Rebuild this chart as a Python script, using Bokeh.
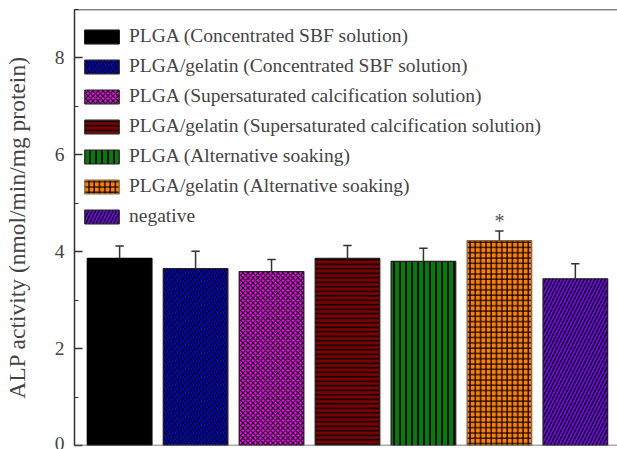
from bokeh.plotting import figure
from bokeh.models import ColumnDataSource, Range1d, SingleIntervalTicker, Legend, LegendItem, Span
from bokeh.core.properties import value
from bokeh.embed import file_html
from bokeh.resources import INLINE

labels = [
    "PLGA (Concentrated SBF solution)",
    "PLGA/gelatin (Concentrated SBF solution)",
    "PLGA (Supersaturated calcification solution)",
    "PLGA/gelatin (Supersaturated calcification solution)",
    "PLGA (Alternative soaking)",
    "PLGA/gelatin (Alternative soaking)",
    "negative",
]
positions = [1, 2, 3, 4, 5, 6, 7]
means = [3.86, 3.65, 3.59, 3.86, 3.80, 4.23, 3.44]
errors = [0.26, 0.36, 0.25, 0.27, 0.27, 0.20, 0.31]
significant = [False, False, False, False, False, True, False]

colors = ["#000000", "#0000FF", "#FF00FF", "#800000", "#008000", "#FF8000", "#8000FF"]
hatches = [" ", "\\", "x", "-", "|", "+", "/"]
hatch_scales = [6, 6, 5, 4.5, 6, 5.3, 7]
hatch_weights = [1, 1.5, 1.2, 1.5, 2, 1.3, 1.5]
border_colors = ["#000000", "#222222", "#222222", "#222222", "#222222", "#8a6a40", "#222222"]

SERIF = "Liberation Serif"

p = figure(width=617, height=449, output_backend="svg", toolbar_location=None,
           x_range=Range1d(0.406, 7.555), y_range=Range1d(0, 9),
           min_border_left=73, min_border_top=9, min_border_right=0, min_border_bottom=4)
p.outline_line_color = None
p.xgrid.visible = False
p.ygrid.visible = False
p.xaxis.visible = False

ya = p.yaxis[0]
ya.ticker = SingleIntervalTicker(interval=2, num_minor_ticks=2)
ya.axis_label = "ALP activity (nmol/min/mg protein)"
ya.axis_label_text_font = SERIF
ya.axis_label_text_font_style = "normal"
ya.axis_label_text_font_size = "23.5px"
ya.axis_label_standoff = 22
ya.major_label_text_font = SERIF
ya.major_label_text_font_size = "19.5px"
ya.major_label_standoff = 10
ya.major_tick_in = 8
ya.major_tick_out = 0
ya.minor_tick_in = 4
ya.minor_tick_out = 0
ya.axis_line_color = "#333333"
ya.axis_line_width = 1.5
ya.major_tick_line_color = "#333333"
ya.minor_tick_line_color = "#333333"
ya.major_tick_line_width = 1.3

items = []
for i in range(len(positions)):
    src = ColumnDataSource(dict(x=[positions[i]], top=[means[i]]))
    r = p.vbar(x="x", top="top", bottom=0, width=0.85, source=src,
               fill_color=colors[i], line_color=border_colors[i], line_width=1.3,
               hatch_pattern=hatches[i], hatch_color="black",
               hatch_scale=hatch_scales[i], hatch_weight=hatch_weights[i])
    items.append(LegendItem(label=labels[i], renderers=[r]))

upper = [m + e for m, e in zip(means, errors)]
p.segment(x0=positions, y0=means, x1=positions, y1=upper, line_color="#333333", line_width=1.5)
cap_half = 0.055
p.segment(x0=[x - cap_half for x in positions], y0=upper,
          x1=[x + cap_half for x in positions], y1=upper, line_color="#333333", line_width=1.5)

star_x = [positions[i] for i in range(len(positions)) if significant[i]]
star_y = [upper[i] for i in range(len(positions)) if significant[i]]
p.text(x=star_x, y=star_y, text=["*"] * len(star_x), text_align="center", text_baseline="middle",
       y_offset=-10, text_font=value(SERIF), text_font_size="20px", text_color="#555555")

p.add_layout(Span(location=9, dimension="width", line_color="#111111", line_width=1.5))
p.add_layout(Span(location=0, dimension="width", line_color="#555555", line_width=1.5))

legend = Legend(items=items, location="top_left")
legend.margin = 6
legend.padding = 11
legend.title = " "
legend.title_text_font_size = "1px"
legend.title_standoff = 9
legend.border_line_color = None
legend.background_fill_alpha = 0
legend.glyph_width = 43
legend.glyph_height = 17
legend.label_standoff = 6
legend.label_height = 20
legend.spacing = 8
legend.label_text_font = SERIF
legend.label_text_font_size = "19.5px"
p.add_layout(legend)

open("out.html", "w").write(file_html(p, INLINE))
